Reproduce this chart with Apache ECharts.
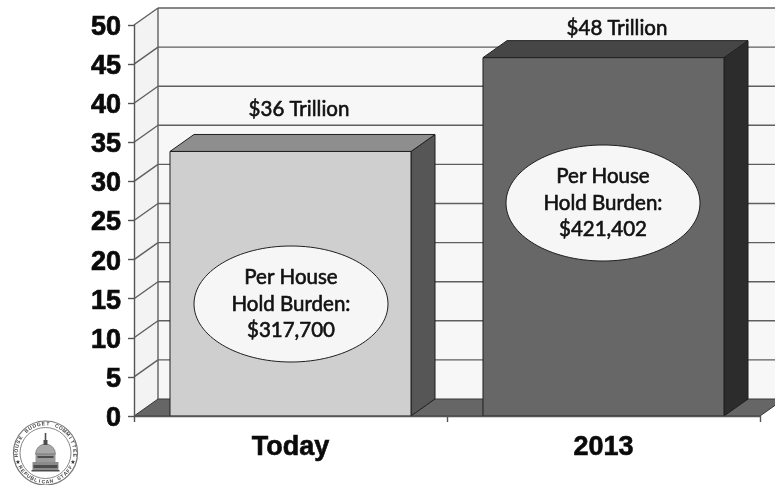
<!DOCTYPE html>
<html>
<head>
<meta charset="utf-8">
<style>html,body{margin:0;padding:0;background:#fff}#chart{width:775px;height:485px}</style>
<script src="https://cdn.jsdelivr.net/npm/echarts@6/dist/echarts.min.js"></script>
</head>
<body>
<div id="chart"></div>
<script>
// Federal debt burden, today against 2013
const categories = ['Today', '2013'];
const debtTrillions = [36, 48];
const totalLabels = ['$36 Trillion', '$48 Trillion'];
const burdenLabels = ['$317,700', '$421,402'];
const burdenCaption = ['Per House', 'Hold Burden:'];
const axisMin = 0;
const axisMax = 50;
const axisStep = 5;
const axisTicks = [0, 5, 10, 15, 20, 25, 30, 35, 40, 45, 50];

// Oblique projection used for the 3D look
const DEPTH_X = 24;
const DEPTH_Y = -17;
const BAR_FRACTION = 0.77;
const EDGE = '#5f5f5f';
const barPalette = [
  { front: '#cfcfcf', top: '#8e8e8e', side: '#565656' },
  { front: '#676767', top: '#464646', side: '#2c2c2c' }
];
const noteLayout = [
  { labelX: 299, labelY: 109, ellipseX: 291, ellipseY: 304, rx: 97, ry: 58 },
  { labelX: 617, labelY: 28, ellipseX: 603, ellipseY: 203, rx: 97, ry: 58 }
];
const TEXT_FONT = 'Lato, "Open Sans", sans-serif';

function poly(points, fill, stroke, lineWidth) {
  return {
    type: 'polygon',
    shape: { points },
    style: { fill, stroke: stroke || 'none', lineWidth: lineWidth || 1 }
  };
}
function line(x1, y1, x2, y2, stroke, lineWidth) {
  return {
    type: 'line',
    shape: { x1, y1, x2, y2 },
    style: { stroke, lineWidth: lineWidth || 1.4 }
  };
}

// Side wall, back wall and floor, with a gridline for every tick
function renderRoom(params, api) {
  const g = params.coordSys;
  const left = g.x, right = g.x + g.width;
  const base = api.coord([0, axisMin])[1];
  const top = api.coord([0, axisMax])[1];
  const kids = [
    poly([[left + DEPTH_X, top + DEPTH_Y], [right + DEPTH_X, top + DEPTH_Y],
          [right + DEPTH_X, base + DEPTH_Y], [left + DEPTH_X, base + DEPTH_Y]], '#f7f7f7'),
    poly([[left, top], [left + DEPTH_X, top + DEPTH_Y],
          [left + DEPTH_X, base + DEPTH_Y], [left, base]], '#f3f3f3'),
    line(left + DEPTH_X, top + DEPTH_Y, left + DEPTH_X, base + DEPTH_Y, EDGE)
  ];
  axisTicks.forEach(function (v) {
    if (v === axisMin) return;
    const y = api.coord([0, v])[1];
    kids.push(line(left, y, left + DEPTH_X, y + DEPTH_Y, EDGE));
    kids.push(line(left + DEPTH_X, y + DEPTH_Y, right + DEPTH_X, y + DEPTH_Y, EDGE));
  });
  kids.push(poly([[left, base], [right, base], [right + DEPTH_X, base + DEPTH_Y],
                  [left + DEPTH_X, base + DEPTH_Y]], '#666666', '#3a3a3a', 1));
  return { type: 'group', children: kids };
}

// A block whose rear top edge sits on its value
function renderBar(params, api) {
  const i = api.value(0);
  const p = api.coord([i, api.value(1)]);
  const base = api.coord([i, axisMin])[1];
  const w = api.size([1, 0])[0] * BAR_FRACTION;
  const x0 = p[0] - w / 2, x1 = p[0] + w / 2;
  const yTop = p[1] - DEPTH_Y;
  const c = barPalette[i];
  const ink = '#1f1f1f';
  return {
    type: 'group',
    children: [
      poly([[x1, yTop], [x1 + DEPTH_X, yTop + DEPTH_Y], [x1 + DEPTH_X, base + DEPTH_Y], [x1, base]], c.side, ink),
      poly([[x0, yTop], [x0 + DEPTH_X, yTop + DEPTH_Y], [x1 + DEPTH_X, yTop + DEPTH_Y], [x1, yTop]], c.top, ink),
      poly([[x0, yTop], [x1, yTop], [x1, base], [x0, base]], c.front, ink)
    ]
  };
}

// Totals above each block and the oval per-household callouts
function renderNotes(params, api) {
  const i = api.value(0);
  const n = noteLayout[i];
  const textStyle = {
    fill: '#111', stroke: '#111', lineWidth: 0.6,
    font: '20.5px ' + TEXT_FONT, align: 'center', verticalAlign: 'middle'
  };
  return {
    type: 'group',
    children: [
      { type: 'text', x: n.labelX, y: n.labelY, style: Object.assign({ text: totalLabels[i] }, textStyle) },
      { type: 'ellipse', shape: { cx: n.ellipseX, cy: n.ellipseY, rx: n.rx, ry: n.ry },
        style: { fill: '#f6f6f6', stroke: '#1f1f1f', lineWidth: 1 } },
      { type: 'text', x: n.ellipseX, y: n.ellipseY - 27, style: Object.assign({ text: burdenCaption[0] }, textStyle) },
      { type: 'text', x: n.ellipseX, y: n.ellipseY, style: Object.assign({ text: burdenCaption[1] }, textStyle) },
      { type: 'text', x: n.ellipseX, y: n.ellipseY + 26, style: Object.assign({ text: burdenLabels[i] }, textStyle) }
    ]
  };
}

// Committee seal: two rings, lettering set around the ring, and a small capitol
function ringText(text, cx, cy, r, stepDeg, below) {
  const out = [];
  const n = text.length;
  for (let k = 0; k < n; k++) {
    const offset = (k - (n - 1) / 2) * stepDeg * Math.PI / 180;
    const a = below ? Math.PI - offset : offset;
    out.push({
      type: 'text',
      x: cx + r * Math.sin(a),
      y: cy - r * Math.cos(a),
      rotation: below ? offset : -a,
      style: { text: text[k], fill: '#444', font: 'bold 5px "Liberation Sans", sans-serif', align: 'center', verticalAlign: 'middle' }
    });
  }
  return out;
}
function seal(cx, cy) {
  const dark = '#4d4d4d', mid = '#8a8a8a';
  const star = (x, y) => ({ type: 'text', x, y, style: { text: '★', fill: '#333', font: '6px "DejaVu Sans"', align: 'center', verticalAlign: 'middle' } });
  const parts = [
    { type: 'circle', shape: { cx, cy, r: 32 }, style: { fill: '#fff', stroke: '#777', lineWidth: 1.2 } },
    { type: 'circle', shape: { cx, cy, r: 25.5 }, style: { fill: '#fff', stroke: '#888', lineWidth: 1 } },
    // terrace, drum, dome, lantern and statue
    { type: 'rect', shape: { x: cx - 13, y: cy + 9, width: 26, height: 9 }, style: { fill: mid } },
    { type: 'rect', shape: { x: cx - 12, y: cy + 12, width: 24, height: 3 }, style: { fill: dark } },
    { type: 'rect', shape: { x: cx - 10, y: cy + 1, width: 20, height: 8 }, style: { fill: '#9a9a9a' } },
    { type: 'rect', shape: { x: cx - 8, y: cy + 3, width: 16, height: 2 }, style: { fill: dark } },
    { type: 'sector', shape: { cx, cy: cy + 1, r: 10, startAngle: Math.PI, endAngle: Math.PI * 2 }, style: { fill: '#a8a8a8', stroke: dark, lineWidth: 0.5 } },
    { type: 'rect', shape: { x: cx - 2, y: cy - 13, width: 4, height: 5 }, style: { fill: dark } },
    { type: 'rect', shape: { x: cx - 0.8, y: cy - 20, width: 1.6, height: 8 }, style: { fill: dark } },
    { type: 'rect', shape: { x: cx - 14, y: cy + 17, width: 28, height: 1.5 }, style: { fill: dark } },
    star(cx - 27.5, cy + 9),
    star(cx + 27.5, cy + 9)
  ];
  return parts
    .concat(ringText('HOUSE BUDGET COMMITTEE', cx, cy, 29, 9, false))
    .concat(ringText('REPUBLICAN STAFF', cx, cy, 29, 8, true));
}

const chart = echarts.init(document.getElementById('chart'), null, { renderer: 'canvas' });
chart.setOption({
  animation: false,
  backgroundColor: '#ffffff',
  grid: { left: 134, top: 25, width: 626, height: 391, containLabel: false },
  xAxis: {
    type: 'category',
    data: categories,
    axisLine: { lineStyle: { color: '#555', width: 1.4 } },
    axisTick: { show: true, length: 6, lineStyle: { color: '#555', width: 1.4 } },
    axisLabel: {
      margin: 17,
      color: '#0a0a0a',
      textBorderColor: '#0a0a0a',
      textBorderWidth: 0.6,
      fontFamily: '"Liberation Sans", Arial, sans-serif',
      fontWeight: 'bold',
      fontSize: 27,
      lineHeight: 30
    },
    z: 5
  },
  yAxis: {
    type: 'value',
    min: axisMin,
    max: axisMax,
    interval: axisStep,
    splitLine: { show: false },
    axisLine: { show: true, lineStyle: { color: '#555', width: 1.4 } },
    axisTick: { show: true, length: 6, lineStyle: { color: '#555', width: 1.4 } },
    axisLabel: {
      margin: 13,
      formatter: function (v) { return '{n|' + v + '}'; },
      rich: {
        n: {
          color: '#0a0a0a',
          textBorderColor: '#0a0a0a',
          textBorderWidth: 0.7,
          fontFamily: '"Liberation Sans", Arial, sans-serif',
          fontWeight: 'bold',
          fontSize: 27,
          padding: [5, 0, 0, 0]
        }
      }
    },
    z: 5
  },
  series: [
    { type: 'custom', renderItem: renderRoom, data: [[0, axisMax]], encode: { x: 0, y: 1 }, z: 1, silent: true, clip: false },
    { type: 'custom', renderItem: renderBar, data: categories.map((c, i) => [i, debtTrillions[i]]), encode: { x: 0, y: 1 }, z: 2, silent: true, clip: false },
    { type: 'custom', renderItem: renderNotes, data: categories.map((c, i) => [i, debtTrillions[i]]), encode: { x: 0, y: 1 }, z: 3, silent: true, clip: false }
  ],
  graphic: { elements: [{ type: 'group', silent: true, children: seal(45.5, 453) }] }
});
</script>
</body>
</html>
